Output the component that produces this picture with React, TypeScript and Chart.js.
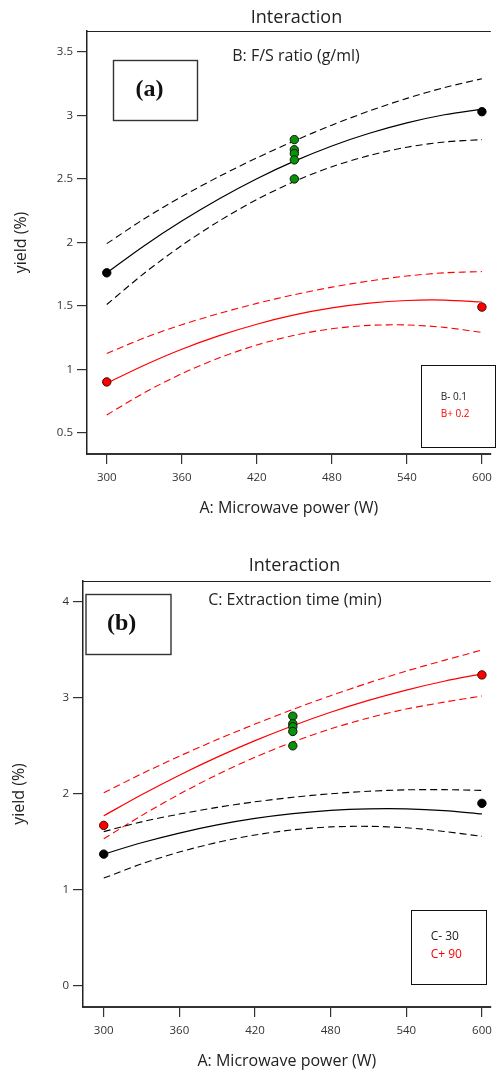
import React, { useEffect, useRef } from "react";
import { Chart, registerables } from "chart.js";

Chart.register(...registerables);

const FONT = '"Open Sans", "Noto Sans", sans-serif';
const SERIF = '"Liberation Serif", "DejaVu Serif", serif';

// ---------- shared data ----------
const curveX = [300, 330, 360, 390, 420, 450, 480, 510, 540, 570, 600];
const xTicks = [300, 360, 420, 480, 540, 600];
const endX = [300, 600];
const centerX = [450, 450, 450, 450, 450];
const centerY = [2.81, 2.73, 2.7, 2.65, 2.5];

// ---------- panel (a): B: F/S ratio ----------
const aYTicks = [0.5, 1, 1.5, 2, 2.5, 3, 3.5];
const aLowMean = [1.76, 1.974, 2.168, 2.344, 2.502, 2.64, 2.76, 2.86, 2.942, 3.006, 3.05];
const aLowUpper = [1.99, 2.186, 2.361, 2.52, 2.666, 2.8, 2.924, 3.036, 3.135, 3.22, 3.29];
const aLowLower = [1.51, 1.757, 1.976, 2.169, 2.338, 2.48, 2.596, 2.685, 2.75, 2.791, 2.81];
const aHighMean = [0.89, 1.032, 1.158, 1.265, 1.355, 1.428, 1.483, 1.521, 1.542, 1.545, 1.53];
const aHighUpper = [1.125, 1.247, 1.351, 1.44, 1.519, 1.588, 1.647, 1.696, 1.735, 1.76, 1.77];
const aHighLower = [0.64, 0.815, 0.965, 1.09, 1.191, 1.268, 1.319, 1.346, 1.349, 1.33, 1.29];
const aLowPts = [1.76, 3.03];
const aHighPts = [0.9, 1.49];
const aLegend = ["B- 0.1", "B+ 0.2"];

// ---------- panel (b): C: Extraction time ----------
const bYTicks = [0, 1, 2, 3, 4];
const bLowMean = [1.37, 1.489, 1.59, 1.675, 1.743, 1.793, 1.827, 1.843, 1.843, 1.825, 1.79];
const bLowUpper = [1.605, 1.707, 1.788, 1.858, 1.916, 1.963, 2.0, 2.026, 2.041, 2.043, 2.035];
const bLowLower = [1.12, 1.268, 1.392, 1.492, 1.57, 1.623, 1.654, 1.66, 1.645, 1.607, 1.555];
const bHighMean = [1.77, 1.99, 2.194, 2.382, 2.554, 2.71, 2.85, 2.974, 3.082, 3.174, 3.25];
const bHighUpper = [2.01, 2.208, 2.392, 2.565, 2.727, 2.88, 3.023, 3.157, 3.28, 3.392, 3.5];
const bHighLower = [1.53, 1.772, 1.996, 2.199, 2.381, 2.54, 2.677, 2.791, 2.884, 2.956, 3.02];
const bLowPts = [1.37, 1.9];
const bHighPts = [1.67, 3.24];
const bLegend = ["C- 30", "C+ 90"];

const BLACK = "#000000";
const RED = "#ff0000";
const GREEN = "#079307";

type Spec = {
  top: number;
  height: number;
  areaTop: number;
  yWidth: number;
  xHeight: number;
  xMin: number;
  xMax: number;
  yMin: number;
  yMax: number;
  yTicks: number[];
  yTitlePad: number;
  xTitlePad: number;
  title: string;
  titlePos: [number, number];
  subtitle: string;
  subPos: [number, number];
  tag: string;
  tagBox: [number, number, number, number];
  tagPos: [number, number];
  legend: string[];
  legendBox: [number, number, number, number];
  legendX: number;
  legendY: [number, number];
  legendSize: number;
  low: number[][];
  high: number[][];
  lowPts: number[];
  highPts: number[];
  lowColor: string;
  highColor: string;
};

const curve = (ys: number[], color: string, dashed: boolean) => ({
  data: curveX.map((x, i) => ({ x, y: ys[i] })),
  showLine: true,
  borderColor: color,
  borderWidth: dashed ? 1.1 : 1.2,
  borderDash: dashed ? [7, 4] : [],
  pointRadius: 0,
  tension: 0.3,
  fill: false,
  order: 3,
});

const pts = (xs: number[], ys: number[], fill: string, stroke: string) => ({
  data: xs.map((x, i) => ({ x, y: ys[i] })),
  showLine: false,
  pointRadius: 4.2,
  pointBackgroundColor: fill,
  pointBorderColor: stroke,
  pointBorderWidth: 1,
  order: 0,
});

function overlay(s: Spec) {
  return {
    id: "overlay" + s.tag,
    afterDraw(chart: any) {
      const ctx = chart.ctx as CanvasRenderingContext2D;
      const a = chart.chartArea;
      ctx.save();
      // top frame of plot
      ctx.strokeStyle = "#222";
      ctx.lineWidth = 1;
      ctx.beginPath();
      ctx.moveTo(a.left, a.top + 0.5);
      ctx.lineTo(a.right, a.top + 0.5);
      ctx.stroke();
      // titles
      ctx.fillStyle = "#222";
      ctx.textAlign = "center";
      ctx.textBaseline = "middle";
      ctx.font = `18px ${FONT}`;
      ctx.fillText(s.title, s.titlePos[0], s.titlePos[1]);
      ctx.font = `16px ${FONT}`;
      ctx.fillText(s.subtitle, s.subPos[0], s.subPos[1]);
      // panel tag box
      ctx.strokeStyle = "#333";
      ctx.lineWidth = 1.4;
      ctx.strokeRect(s.tagBox[0], s.tagBox[1], s.tagBox[2], s.tagBox[3]);
      ctx.fillStyle = "#111";
      ctx.font = `bold 24px ${SERIF}`;
      ctx.fillText(s.tag, s.tagPos[0], s.tagPos[1]);
      // legend box
      ctx.strokeStyle = "#111";
      ctx.lineWidth = 1;
      ctx.strokeRect(s.legendBox[0], s.legendBox[1], s.legendBox[2], s.legendBox[3]);
      ctx.textAlign = "left";
      ctx.font = `${s.legendSize}px ${FONT}`;
      ctx.fillStyle = "#222";
      ctx.fillText(s.legend[0], s.legendX, s.legendY[0]);
      ctx.fillStyle = RED;
      ctx.fillText(s.legend[1], s.legendX, s.legendY[1]);
      ctx.restore();
    },
  };
}

function buildConfig(s: Spec): any {
  return {
    type: "scatter",
    data: {
      datasets: [
        pts(centerX, centerY, GREEN, "#111"),
        pts(endX, s.lowPts, BLACK, BLACK),
        pts(endX, s.highPts, RED, "#400"),
        curve(s.low[0], s.lowColor, false),
        curve(s.low[1], s.lowColor, true),
        curve(s.low[2], s.lowColor, true),
        curve(s.high[0], s.highColor, false),
        curve(s.high[1], s.highColor, true),
        curve(s.high[2], s.highColor, true),
      ],
    },
    options: {
      animation: false,
      responsive: false,
      devicePixelRatio: 1,
      events: [],
      layout: { padding: { top: s.areaTop, left: 0, right: 0, bottom: 0 } },
      plugins: {
        legend: { display: false },
        tooltip: { enabled: false },
        title: { display: false },
      },
      scales: {
        x: {
          type: "linear",
          position: "bottom",
          min: s.xMin,
          max: s.xMax,
          afterBuildTicks: (sc: any) => {
            sc.ticks = xTicks.map((v) => ({ value: v }));
          },
          afterFit: (sc: any) => {
            sc.height = s.xHeight;
            sc.paddingLeft = 0;
            sc.paddingRight = 0;
          },
          grid: { drawOnChartArea: false, drawTicks: true, tickLength: 10, color: "#333", lineWidth: 1.2 },
          border: { display: true, color: "#333", width: 2 },
          ticks: {
            padding: 7,
            color: "#333",
            font: { family: FONT, size: 11.5 },
            maxRotation: 0,
            autoSkip: false,
            callback: (v: any) => String(v),
          },
          title: {
            display: true,
            text: "A: Microwave power (W)",
            color: "#222",
            font: { family: FONT, size: 16 },
            padding: { top: 0, bottom: s.xTitlePad },
          },
        },
        y: {
          type: "linear",
          position: "left",
          min: s.yMin,
          max: s.yMax,
          afterBuildTicks: (sc: any) => {
            sc.ticks = s.yTicks.map((v) => ({ value: v }));
          },
          afterFit: (sc: any) => {
            sc.width = s.yWidth;
            sc.paddingTop = 0;
            sc.paddingBottom = 0;
          },
          grid: { drawOnChartArea: false, drawTicks: true, tickLength: 10, color: "#333", lineWidth: 1.2 },
          border: { display: true, color: "#222", width: 1.5 },
          ticks: {
            padding: 4,
            color: "#333",
            font: { family: FONT, size: 11.5 },
            autoSkip: false,
            callback: (v: any) => String(v),
          },
          title: {
            display: true,
            text: "yield (%)",
            color: "#222",
            font: { family: FONT, size: 16 },
            padding: { top: s.yTitlePad, bottom: 0 },
          },
        },
      },
    },
    plugins: [overlay(s)],
  };
}

const specA: Spec = {
  top: 0,
  height: 530,
  areaTop: 31,
  yWidth: 87,
  xHeight: 76,
  xMin: 284.2,
  xMax: 607.1,
  yMin: 0.332,
  yMax: 3.666,
  yTicks: aYTicks,
  yTitlePad: 12,
  xTitlePad: 12,
  title: "Interaction",
  titlePos: [296.5, 17.5],
  subtitle: "B: F/S ratio (g/ml)",
  subPos: [296, 56],
  tag: "(a)",
  tagBox: [113.5, 60.5, 84, 60],
  tagPos: [149.5, 90],
  legend: aLegend,
  legendBox: [421.5, 365.5, 74, 82],
  legendX: 440.7,
  legendY: [397.3, 414],
  legendSize: 10,
  low: [aLowMean, aLowUpper, aLowLower],
  high: [aHighMean, aHighUpper, aHighLower],
  lowPts: aLowPts,
  highPts: aHighPts,
  lowColor: BLACK,
  highColor: RED,
};

const specB: Spec = {
  top: 540,
  height: 532,
  areaTop: 41,
  yWidth: 83,
  xHeight: 65,
  xMin: 283.55,
  xMax: 607.05,
  yMin: -0.225,
  yMax: 4.22,
  yTicks: bYTicks,
  yTitlePad: 10,
  xTitlePad: 1,
  title: "Interaction",
  titlePos: [294.5, 26],
  subtitle: "C: Extraction time (min)",
  subPos: [295, 60],
  tag: "(b)",
  tagBox: [86, 54.5, 85, 60],
  tagPos: [121.7, 84],
  legend: bLegend,
  legendBox: [411.5, 370.5, 75, 74],
  legendX: 430.7,
  legendY: [397, 415],
  legendSize: 12,
  low: [bLowMean, bLowUpper, bLowLower],
  high: [bHighMean, bHighUpper, bHighLower],
  lowPts: bLowPts,
  highPts: bHighPts,
  lowColor: BLACK,
  highColor: RED,
};

function Panel({ spec }: { spec: Spec }) {
  const ref = useRef<HTMLCanvasElement>(null);
  useEffect(() => {
    const chart = new Chart(ref.current as HTMLCanvasElement, buildConfig(spec));
    return () => chart.destroy();
  }, [spec]);
  return (
    <canvas
      ref={ref}
      width={496}
      height={spec.height}
      style={{ position: "absolute", left: 0, top: spec.top, width: 496, height: spec.height, display: "block" }}
    />
  );
}

export default function App() {
  return (
    <div style={{ position: "absolute", left: 0, top: 0, width: 496, height: 1072, background: "#fff", overflow: "hidden" }}>
      <Panel spec={specA} />
      <Panel spec={specB} />
    </div>
  );
}
